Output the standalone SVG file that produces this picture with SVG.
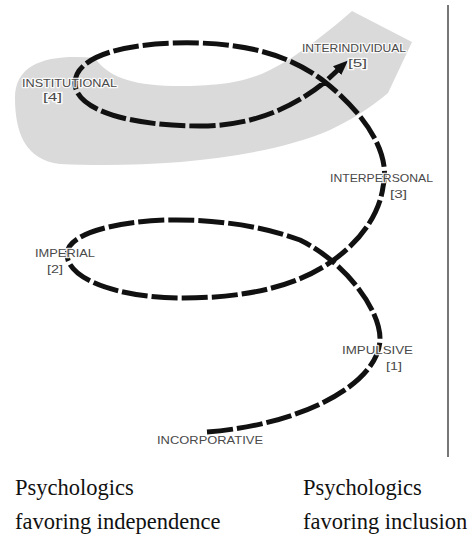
<svg xmlns="http://www.w3.org/2000/svg" width="471" height="540" viewBox="0 0 471 540">
<style>
.lbl{font-family:"Liberation Sans",Arial,sans-serif;font-size:11.5px;fill:#4a4a4a;stroke:#ffffff;stroke-width:2.5px;stroke-opacity:0.85;paint-order:stroke;stroke-linejoin:round}
.cap{font-family:"Liberation Serif","Times New Roman",serif;font-size:22.5px;fill:#111}
.spiral{fill:none;stroke:#111;stroke-width:5;stroke-dasharray:26 4}
</style>
<defs>
<marker id="arrow" markerUnits="userSpaceOnUse" markerWidth="16" markerHeight="14" refX="4" refY="7" orient="auto">
<path d="M0,1 L15,7 L0,13 Z" fill="#111"/>
</marker>
</defs>
<rect width="471" height="540" fill="#ffffff"/>
<g id="band">
<path d="M95,58 C50,54 15,62 15,98 C15,132 25,160 60,164 C150,168 260,160 330,130 C350,120 368,110 388,93 L412,42 L352,11 C330,30 300,55 270,70 C250,80 230,85 190,86 C140,87 110,80 95,58 Z" fill="#dadada"/>
</g>
<g id="divider">
<line x1="448" y1="5" x2="448" y2="457" stroke="#777" stroke-width="2"/>
</g>
<g id="connectors">
<path class="spiral" marker-end="url(#arrow)" d="M207,432 C300,425 378,385 380,340 C381,310 345,262 300,240 C260,225 210,219 167,220 C110,222 67,235 67,254 C67,280 120,298 183,298 C250,298 300,285 335,259 C365,237 380,210 383,187 C392,150 360,110 325,82 C290,55 250,45 200,43 C130,41 75,55 75,83 C75,110 130,126 200,126 C250,126 290,110 325,82 L340,68"/>
</g>
<g id="incorporative"><text class="lbl" x="157" y="444" textLength="106" lengthAdjust="spacingAndGlyphs">INCORPORATIVE</text></g>
<g id="impulsive"><text class="lbl" x="342" y="354" textLength="71" lengthAdjust="spacingAndGlyphs">IMPULSIVE</text><text class="lbl" x="386" y="370" textLength="16" lengthAdjust="spacingAndGlyphs">[1]</text></g>
<g id="imperial"><text class="lbl" x="35" y="257" textLength="60" lengthAdjust="spacingAndGlyphs">IMPERIAL</text><text class="lbl" x="47" y="273" textLength="16" lengthAdjust="spacingAndGlyphs">[2]</text></g>
<g id="interpersonal"><text class="lbl" x="330" y="182" textLength="103" lengthAdjust="spacingAndGlyphs">INTERPERSONAL</text><text class="lbl" x="390" y="198" textLength="17" lengthAdjust="spacingAndGlyphs">[3]</text></g>
<g id="institutional"><text class="lbl" x="22" y="87" textLength="95" lengthAdjust="spacingAndGlyphs">INSTITUTIONAL</text><text class="lbl" x="43" y="101" textLength="19" lengthAdjust="spacingAndGlyphs">[4]</text></g>
<g id="interindividual"><text class="lbl" x="302" y="52" textLength="104" lengthAdjust="spacingAndGlyphs">INTERINDIVIDUAL</text><text class="lbl" x="348" y="67" textLength="19" lengthAdjust="spacingAndGlyphs">[5]</text></g>
<g id="captions">
<text class="cap" x="15" y="495">Psychologics</text>
<text class="cap" x="15" y="529">favoring independence</text>
<text class="cap" x="303" y="495">Psychologics</text>
<text class="cap" x="303" y="529">favoring inclusion</text>
</g>
</svg>
